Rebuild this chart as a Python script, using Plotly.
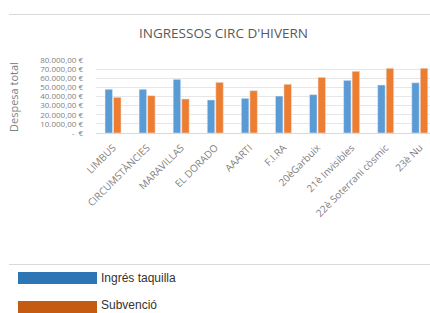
import plotly.graph_objects as go

categories = ["LIMBUS", "CIRCUMSTÀNCIES", "MARAVILLAS", "EL DORADO", "AAARTI", "F.I.RA",
              "20èGarbuix", "21è Invisibles", "22è Soterrani còsmic", "23è Nu"]
ingres_taquilla = [47900, 47900, 58800, 36200, 38000, 40500, 42000, 57700, 52600, 55100]
subvencio = [39100, 40900, 37300, 55500, 46400, 53400, 61000, 67600, 70900, 70900]
tick_vals = [0, 10000, 20000, 30000, 40000, 50000, 60000, 70000, 80000]
tick_text = ["-  €", "10.000,00 €", "20.000,00 €", "30.000,00 €", "40.000,00 €",
             "50.000,00 €", "60.000,00 €", "70.000,00 €", "80.000,00 €"]

W, H = 430, 313
L, R, T, B = 96, 0, 60, 180

fig = go.Figure()
fig.add_trace(go.Bar(x=categories, y=ingres_taquilla, name="Ingrés taquilla",
                     marker_color="#5B9BD5", showlegend=False))
fig.add_trace(go.Bar(x=categories, y=subvencio, name="Subvenció",
                     marker_color="#ED7D31", showlegend=False))

def px_x(x):
    return (x - L) / (W - L - R)

def px_y(y):
    return (H - B - y) / (H - T - B)

shapes = [
    dict(type="line", xref="paper", yref="paper", x0=px_x(9), x1=px_x(430), y0=px_y(14.5), y1=px_y(14.5),
         line=dict(color="#D9D9D9", width=1)),
    dict(type="line", xref="paper", yref="paper", x0=px_x(9), x1=px_x(430), y0=px_y(264.5), y1=px_y(264.5),
         line=dict(color="#D9D9D9", width=1)),
    dict(type="rect", xref="paper", yref="paper", x0=px_x(18), x1=px_x(97), y0=px_y(272), y1=px_y(284),
         fillcolor="#2E75B6", line=dict(width=0)),
    dict(type="rect", xref="paper", yref="paper", x0=px_x(18), x1=px_x(97), y0=px_y(301), y1=px_y(313),
         fillcolor="#C55A11", line=dict(width=0)),
]

annotations = [
    dict(text="INGRESSOS CIRC D'HIVERN", xref="paper", yref="paper", x=px_x(223), y=px_y(33),
         showarrow=False, xanchor="center", yanchor="middle",
         font=dict(family="Open Sans", size=13.5, color="#595959")),
    dict(text="Despesa total", xref="paper", yref="paper", x=px_x(13), y=px_y(97),
         showarrow=False, textangle=-90, xanchor="center", yanchor="middle",
         font=dict(family="Open Sans", size=11, color="#7F7F7F")),
    dict(text="Ingrés taquilla", xref="paper", yref="paper", x=px_x(99), y=px_y(278),
         showarrow=False, xanchor="left", yanchor="middle",
         font=dict(family="Liberation Sans", size=12, color="#333333")),
    dict(text="Subvenció", xref="paper", yref="paper", x=px_x(99), y=px_y(305),
         showarrow=False, xanchor="left", yanchor="middle",
         font=dict(family="Liberation Sans", size=12, color="#333333")),
]

fig.update_layout(
    width=W, height=H,
    margin=dict(l=L, r=R, t=T, b=B),
    paper_bgcolor="white", plot_bgcolor="white",
    barmode="group", bargap=0.5, bargroupgap=0.12,
    shapes=shapes, annotations=annotations,
    xaxis=dict(range=[-0.5, 9.3], tickangle=-45, showgrid=False, showline=True,
               linecolor="#D9D9D9", linewidth=1, ticks="", ticklabelstandoff=4,
               tickfont=dict(family="Open Sans", size=10, color="#7F7F7F")),
    yaxis=dict(range=[0, 80000], tickvals=tick_vals, ticktext=tick_text,
               showgrid=True, gridcolor="#E6E6E6", gridwidth=1, zeroline=False,
               ticklabelstandoff=12,
               tickfont=dict(family="Open Sans", size=8, color="#7F7F7F")),
)

fig.write_html("out.html", config={"displayModeBar": False},
               post_script="document.body.style.margin='0';")
